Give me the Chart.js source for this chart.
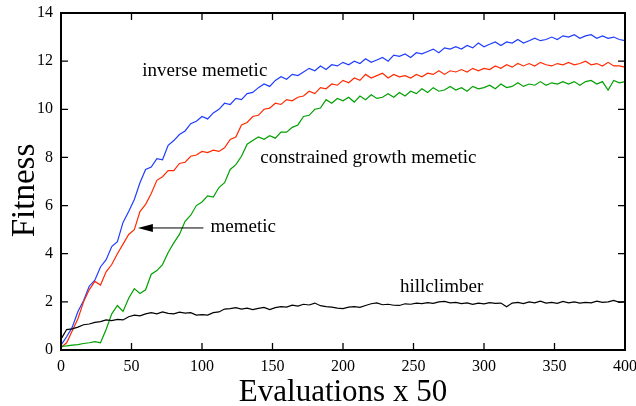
<!DOCTYPE html>
<html>
<head>
<meta charset="utf-8">
<title>Fitness vs evaluations</title>
<script src="https://cdn.jsdelivr.net/npm/chart.js@4.4.0/dist/chart.umd.min.js"></script>
<style>
  html, body { margin: 0; padding: 0; background: #fff; }
  #wrap { width: 636px; height: 406px; }
</style>
</head>
<body>
<div id="wrap"><canvas id="fitnessChart" width="636" height="406"></canvas></div>
<script>
// Sampling grid: every 4th evaluation batch (x 50)
const evals = Array.from({ length: 101 }, (_, i) => i * 4);

// Best fitness per run type, averaged
const inverseMemetic = [
  0.2, 0.55, 0.95, 1.6, 2.05, 2.65, 2.9, 3.45, 3.75, 4.3,
  4.5, 5.3, 5.75, 6.25, 6.95, 7.5, 7.6, 7.95, 7.9, 8.5,
  8.7, 8.95, 9.1, 9.4, 9.5, 9.7, 9.6, 9.85, 10.0, 10.25,
  10.2, 10.45, 10.4, 10.65, 10.7, 10.9, 11.05, 10.95, 11.2, 11.35,
  11.25, 11.45, 11.4, 11.55, 11.7, 11.6, 11.8, 11.65, 11.85, 11.8,
  11.95, 11.85, 12.0, 11.9, 12.1, 11.95, 12.05, 12.15, 12.0, 12.25,
  12.2, 12.3, 12.15, 12.35, 12.3, 12.4, 12.5, 12.35, 12.55, 12.5,
  12.6, 12.5, 12.65, 12.55, 12.75, 12.6, 12.7, 12.8, 12.65, 12.8,
  12.75, 12.9, 12.75, 12.85, 12.95, 12.85, 12.9, 13.0, 12.9, 13.05,
  13.0, 13.1, 12.95, 13.05, 13.1, 12.95, 13.05, 12.95, 13.0, 12.9,
  12.85
];
const memetic = [
  0.1, 0.3, 0.8, 1.3, 2.0, 2.5, 2.85, 2.7, 3.25, 3.55,
  4.0, 4.4, 4.8, 5.0, 5.75, 6.05, 6.5, 7.05, 7.2, 7.45,
  7.45, 7.75, 7.8, 8.05, 8.1, 8.25, 8.2, 8.3, 8.25, 8.4,
  8.75, 8.85, 9.35, 9.45, 9.7, 9.75, 10.0, 10.05, 10.25, 10.2,
  10.4, 10.35, 10.5, 10.55, 10.75, 10.65, 10.9, 10.85, 11.05, 11.0,
  11.2, 11.1, 11.3, 11.2, 11.45, 11.3, 11.4, 11.5, 11.3, 11.45,
  11.35, 11.4, 11.3, 11.45, 11.35, 11.5, 11.45, 11.6, 11.45, 11.6,
  11.55, 11.65, 11.55, 11.7, 11.6, 11.7, 11.65, 11.8, 11.7, 11.85,
  11.75, 11.9, 11.8, 11.9, 11.8, 11.95, 11.85, 11.8, 11.9, 11.85,
  11.95, 11.85, 11.9, 12.0, 11.85, 11.9, 11.8, 11.95, 11.8, 11.8,
  11.75
];
const constrainedGrowth = [
  0.15, 0.17, 0.2, 0.22, 0.27, 0.3, 0.35, 0.3, 0.85, 1.5,
  1.85, 1.6, 2.15, 2.55, 2.35, 2.5, 3.15, 3.3, 3.55, 4.05,
  4.45, 4.8, 5.35, 5.6, 6.0, 6.15, 6.4, 6.35, 6.75, 6.95,
  7.5, 7.7, 8.05, 8.55, 8.7, 8.85, 8.75, 8.9, 8.8, 9.05,
  9.05, 9.25, 9.35, 9.7, 9.75, 10.0, 10.05, 10.4, 10.25, 10.45,
  10.35, 10.5, 10.3, 10.55, 10.4, 10.6, 10.45, 10.5, 10.65, 10.5,
  10.7, 10.55, 10.75, 10.65, 10.85, 10.7, 10.9, 10.75, 10.8, 10.95,
  10.8, 10.9, 10.75, 10.95, 10.85, 10.9, 11.0, 10.85, 11.05, 10.9,
  10.95, 11.1, 10.95, 11.05, 11.0, 11.15, 11.0, 11.1, 11.05, 11.15,
  11.05, 11.15, 11.0, 11.15, 11.2, 11.05, 11.15, 10.8, 11.2, 11.1,
  11.15
];
const hillclimber = [
  0.45, 0.85, 0.88, 0.95, 1.05, 1.08, 1.15, 1.18, 1.25, 1.22,
  1.27, 1.25, 1.38, 1.45, 1.42, 1.5, 1.55, 1.5, 1.58, 1.52,
  1.5, 1.57, 1.53, 1.55, 1.45, 1.47, 1.45, 1.55, 1.58, 1.7,
  1.72, 1.76, 1.7, 1.74, 1.68, 1.73, 1.77, 1.68, 1.76, 1.8,
  1.78, 1.86, 1.82, 1.9, 1.87, 1.95, 1.84, 1.8, 1.78, 1.74,
  1.72, 1.78, 1.8, 1.77, 1.85, 1.92, 1.96, 1.88, 1.9, 1.86,
  1.85, 1.92, 1.9, 1.95, 1.93, 1.97, 1.94, 2.0, 2.02, 1.96,
  1.98, 1.93, 1.96, 1.9, 1.95, 1.92, 1.97, 1.94, 1.95, 1.8,
  1.95, 1.98, 1.93, 2.0, 1.96, 2.03, 1.95, 1.98, 1.94, 2.02,
  1.96, 2.0, 1.95, 1.98, 1.96, 2.03, 1.98, 2.0, 2.06, 1.98,
  2.0
];

const xTicks = [0, 50, 100, 150, 200, 250, 300, 350, 400];
const yTicks = [0, 2, 4, 6, 8, 10, 12, 14];

// Curve names written inside the plot, placed in data units
const notes = [
  { text: "inverse memetic", x: 102, y: 11.6, align: "center" },
  { text: "constrained growth memetic", x: 218, y: 7.98, align: "center" },
  { text: "memetic", x: 106, y: 5.1, align: "left" },
  { text: "hillclimber", x: 270, y: 2.62, align: "center" }
];
// arrow from the "memetic" note to the red curve
const arrow = { fromX: 101, toX: 54.5, y: 5.07 };

const serif = "'Liberation Serif', 'Times New Roman', serif";

function toPoints(values) {
  return values.map((v, i) => ({ x: evals[i], y: v }));
}

function series(label, values, color) {
  return {
    label: label,
    data: toPoints(values),
    borderColor: color,
    borderWidth: 1.2,
    pointRadius: 0,
    tension: 0,
    fill: false
  };
}

// Frame with inward ticks on all four sides, plus notes, arrow and y title
const framePlugin = {
  id: "frame",
  afterDraw(chart) {
    const { ctx, chartArea, scales } = chart;
    const { left, right, top, bottom } = chartArea;
    const tick = 7;
    ctx.save();
    ctx.strokeStyle = "#000";
    ctx.lineWidth = 1.3;
    ctx.beginPath();
    xTicks.forEach(v => {
      const px = scales.x.getPixelForValue(v);
      ctx.moveTo(px, bottom); ctx.lineTo(px, bottom - tick);
      ctx.moveTo(px, top); ctx.lineTo(px, top + tick);
    });
    yTicks.forEach(v => {
      const py = scales.y.getPixelForValue(v);
      ctx.moveTo(left, py); ctx.lineTo(left + tick, py);
      ctx.moveTo(right, py); ctx.lineTo(right - tick, py);
    });
    ctx.stroke();
    ctx.lineWidth = 2;
    ctx.strokeRect(left, top, right - left, bottom - top);

    ctx.fillStyle = "#000";
    ctx.font = "19px " + serif;
    ctx.textBaseline = "middle";
    notes.forEach(n => {
      ctx.textAlign = n.align;
      ctx.fillText(n.text, scales.x.getPixelForValue(n.x), scales.y.getPixelForValue(n.y));
    });

    const ay = scales.y.getPixelForValue(arrow.y);
    const ax0 = scales.x.getPixelForValue(arrow.fromX);
    const ax1 = scales.x.getPixelForValue(arrow.toX);
    ctx.lineWidth = 1;
    ctx.beginPath();
    ctx.moveTo(ax0, ay); ctx.lineTo(ax1 + 10, ay);
    ctx.stroke();
    ctx.beginPath();
    ctx.moveTo(ax1, ay);
    ctx.lineTo(ax1 + 15, ay - 4);
    ctx.lineTo(ax1 + 15, ay + 4);
    ctx.closePath();
    ctx.fill();

    // y axis title, sits a little below the middle of the frame
    ctx.translate(34, (top + bottom) / 2 + 9);
    ctx.rotate(-Math.PI / 2);
    ctx.font = "33px " + serif;
    ctx.textAlign = "center";
    ctx.textBaseline = "alphabetic";
    ctx.fillText("Fitness", 0, 0);
    ctx.restore();
  }
};

const ctx = document.getElementById("fitnessChart").getContext("2d");
const fitnessChart = new Chart(ctx, {
  type: "line",
  data: {
    datasets: [
      series("hillclimber", hillclimber, "#000000"),
      series("constrained growth memetic", constrainedGrowth, "#00a000"),
      series("memetic", memetic, "#ff2a00"),
      series("inverse memetic", inverseMemetic, "#1f3dff")
    ]
  },
  options: {
    responsive: false,
    animation: false,
    maintainAspectRatio: false,
    layout: { padding: { top: 13, right: 11, left: 0, bottom: 0 } },
    plugins: {
      legend: { display: false },
      tooltip: { enabled: false }
    },
    scales: {
      x: {
        type: "linear",
        min: 0,
        max: 400,
        grid: { display: false, drawTicks: false },
        border: { display: false },
        ticks: {
          stepSize: 50,
          padding: 7,
          maxRotation: 0,
          color: "#000",
          font: { family: serif, size: 16 }
        },
        title: {
          display: true,
          text: "Evaluations x 50",
          color: "#000",
          padding: { top: 0, bottom: 0 },
          font: { family: serif, size: 31, lineHeight: 0.85 }
        },
        afterFit(scale) {
          scale.height = 56;
          scale.paddingLeft = 0;
          scale.paddingRight = 0;
        }
      },
      y: {
        min: 0,
        max: 14,
        grid: { display: false, drawTicks: false },
        border: { display: false },
        ticks: {
          stepSize: 2,
          padding: 8,
          color: "#000",
          font: { family: serif, size: 16 }
        },
        afterFit(scale) {
          scale.width = 61;
          scale.paddingTop = 0;
          scale.paddingBottom = 0;
        }
      }
    }
  },
  plugins: [framePlugin]
});
</script>
</body>
</html>
